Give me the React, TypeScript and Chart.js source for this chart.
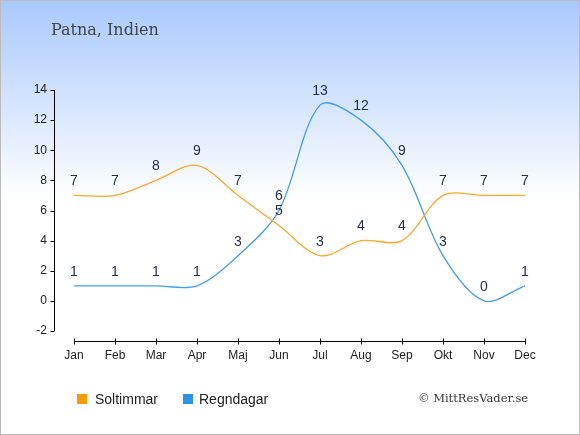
import React, { useEffect, useRef } from 'react';
import { Chart, registerables } from 'chart.js';

Chart.register(...registerables);

const months = ['Jan', 'Feb', 'Mar', 'Apr', 'Maj', 'Jun', 'Jul', 'Aug', 'Sep', 'Okt', 'Nov', 'Dec'];
const sunHours = [7, 7, 8, 9, 7, 5, 3, 4, 4, 7, 7, 7];
const rainDays = [1, 1, 1, 1, 3, 6, 13, 12, 9, 3, 0, 1];
const yMin = -2;
const yMax = 14;
const yStep = 2;

const sunColor = '#ffa726';
const rainColor = '#3d9ff0';

// draws the detached axis lines and the value labels
const extrasPlugin = {
  id: 'extras',
  afterDraw(chart: any) {
    const { ctx, chartArea, scales } = chart;
    const xs = scales.x;
    const ys = scales.y;
    ctx.save();
    ctx.strokeStyle = '#000';
    ctx.lineWidth = 1;

    const ax = Math.round(chartArea.left - 20) + 0.5;
    ctx.beginPath();
    ctx.moveTo(ax, ys.getPixelForValue(yMax));
    ctx.lineTo(ax, ys.getPixelForValue(yMin));
    for (let v = yMin; v <= yMax; v += yStep) {
      const py = Math.round(ys.getPixelForValue(v)) + 0.5;
      ctx.moveTo(ax - 4, py);
      ctx.lineTo(ax, py);
    }
    ctx.stroke();

    const ay = Math.round(chartArea.bottom + 10) + 0.5;
    ctx.beginPath();
    ctx.moveTo(xs.getPixelForValue(0), ay);
    ctx.lineTo(xs.getPixelForValue(months.length - 1), ay);
    months.forEach((_, i) => {
      const px = Math.round(xs.getPixelForValue(i)) + 0.5;
      ctx.moveTo(px, ay - 3);
      ctx.lineTo(px, ay + 3);
    });
    ctx.stroke();

    ctx.fillStyle = '#24304d';
    ctx.font = '14px "Liberation Sans", Arial, sans-serif';
    ctx.textAlign = 'center';
    ctx.textBaseline = 'middle';
    chart.data.datasets.forEach((ds: any) => {
      ds.data.forEach((v: number, i: number) => {
        ctx.fillText(String(v), xs.getPixelForValue(i), ys.getPixelForValue(v) - 14);
      });
    });
    ctx.restore();
  },
};

const App: React.FC = () => {
  const canvasRef = useRef<HTMLCanvasElement | null>(null);

  useEffect(() => {
    document.body.style.margin = '0';
    if (!canvasRef.current) return;
    const chart = new Chart(canvasRef.current, {
      type: 'line',
      data: {
        labels: months,
        datasets: [
          {
            label: 'Soltimmar',
            data: sunHours,
            borderColor: sunColor,
            borderWidth: 1.3,
            pointRadius: 0,
            tension: 0.32,
            fill: false,
          },
          {
            label: 'Regndagar',
            data: rainDays,
            borderColor: rainColor,
            borderWidth: 1.3,
            pointRadius: 0,
            tension: 0.32,
            fill: false,
          },
        ],
      },
      options: {
        responsive: false,
        animation: false,
        layout: { padding: { left: 0, right: 55, top: 90, bottom: 64 } },
        plugins: {
          legend: { display: false },
          tooltip: { enabled: false },
        },
        scales: {
          x: {
            offset: false,
            grid: { display: false },
            border: { display: false },
            ticks: {
              padding: 9,
              color: '#222',
              font: { family: '"Liberation Sans", Arial, sans-serif', size: 12 },
              maxRotation: 0,
              autoSkip: false,
            },
            afterFit: (s: any) => {
              s.height = 40;
            },
          },
          y: {
            min: yMin,
            max: yMax,
            grid: { display: false },
            border: { display: false },
            ticks: {
              stepSize: yStep,
              padding: 19,
              color: '#222',
              font: { family: '"Liberation Sans", Arial, sans-serif', size: 12 },
            },
            afterFit: (s: any) => {
              s.width = 74;
            },
          },
        },
      },
      plugins: [extrasPlugin],
    });
    return () => chart.destroy();
  }, []);

  const legendText: React.CSSProperties = {
    position: 'absolute',
    top: 389,
    fontFamily: '"Liberation Sans", Arial, sans-serif',
    fontSize: 14,
    color: '#222',
    lineHeight: '18px',
  };
  const square = (left: number, color: string): React.CSSProperties => ({
    position: 'absolute',
    left,
    top: 393,
    width: 10,
    height: 10,
    background: color,
  });

  return (
    <div
      style={{
        position: 'relative',
        width: 580,
        height: 435,
        boxSizing: 'border-box',
        border: '1px solid #bbb',
        background: 'linear-gradient(to bottom, #a9c9fd 0px, #ffffff 200px)',
        overflow: 'hidden',
      }}
    >
      <canvas ref={canvasRef} width={580} height={435} style={{ position: 'absolute', left: -1, top: -1 }} />
      <div
        style={{
          position: 'absolute',
          left: 50,
          top: 19,
          fontFamily: '"DejaVu Serif", serif',
          fontSize: 16,
          color: '#444',
          lineHeight: '20px',
        }}
      >
        Patna, Indien
      </div>
      <div style={square(76, '#ff9900')} />
      <div style={{ ...legendText, left: 94 }}>Soltimmar</div>
      <div style={square(182, '#2b94e8')} />
      <div style={{ ...legendText, left: 198 }}>Regndagar</div>
      <div
        style={{
          position: 'absolute',
          left: 417,
          top: 388,
          fontFamily: '"DejaVu Serif", serif',
          fontSize: 11.5,
          color: '#333',
          lineHeight: '18px',
        }}
      >
        © MittResVader.se
      </div>
    </div>
  );
};

export default App;
